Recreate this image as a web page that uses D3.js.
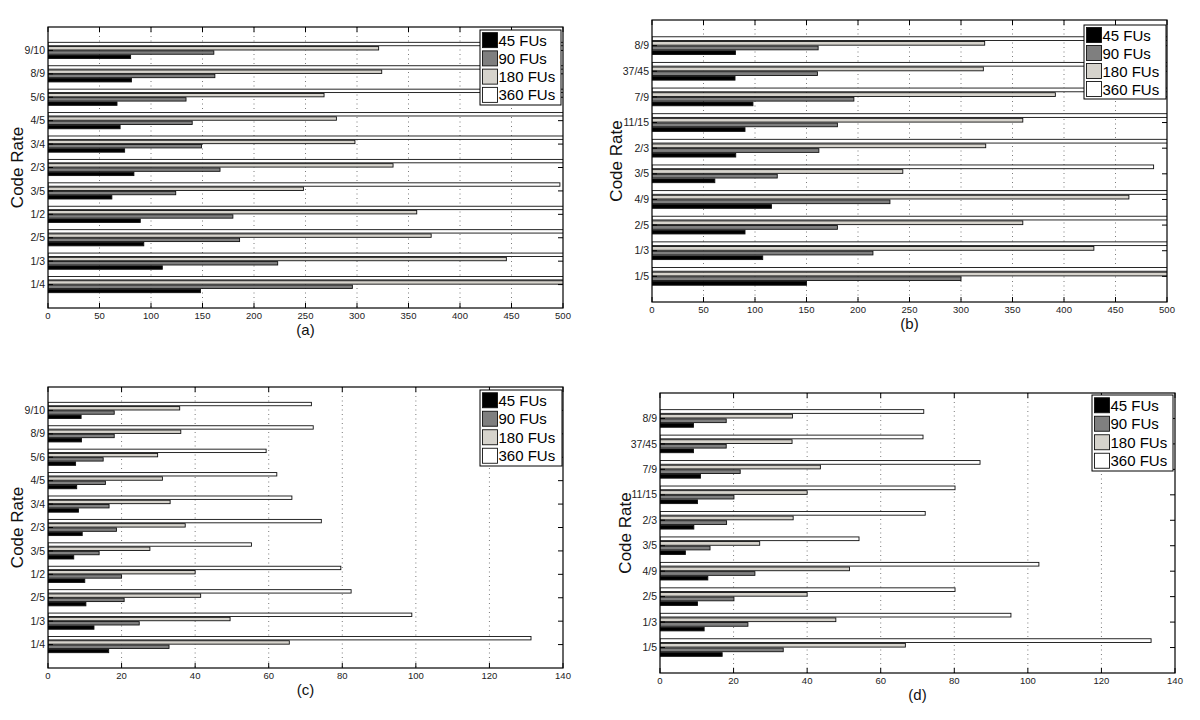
<!DOCTYPE html>
<html>
<head>
<meta charset="utf-8">
<script src="https://cdn.jsdelivr.net/npm/d3@7"></script>
<style>
  html, body { margin: 0; padding: 0; background: #fff; }
  svg { display: block; font-family: "Liberation Sans", Arial, sans-serif; }
</style>
</head>
<body>
<svg id="chart" width="1200" height="720"></svg>
<script>
// ---------------- DATA ----------------
const seriesNames = ["45 FUs", "90 FUs", "180 FUs", "360 FUs"];
const seriesColors = ["#000000", "#7f7f7f", "#d6d3cc", "#ffffff"];

// Panel (a)
const ratesA = ["1/4", "1/3", "2/5", "1/2", "3/5", "2/3", "3/4", "4/5", "5/6", "8/9", "9/10"];
const a45  = [148, 111, 93, 89.6, 62, 83.4, 74.4, 70, 67, 81, 80.2];
const a90  = [295.5, 223, 186, 179.5, 124, 167, 149, 140, 134, 162, 161];
const a180 = [590, 445, 372, 358, 248, 335, 298, 280, 268, 324, 321];
const a360 = [1180, 890, 744, 716, 497, 670, 596, 560, 536, 648, 642];
const ticksA = [0, 50, 100, 150, 200, 250, 300, 350, 400, 450, 500];

// Panel (b)
const ratesB = ["1/5", "1/3", "2/5", "4/9", "3/5", "2/3", "11/15", "7/9", "37/45", "8/9"];
const b45  = [150, 107.5, 90.3, 116, 61, 81.3, 90.3, 98, 80.6, 81];
const b90  = [300, 214.5, 180, 231, 121.6, 162, 180, 196, 160.6, 161.3];
const b180 = [600, 429, 360, 463, 243.5, 324, 360, 391.6, 321.7, 323];
const b360 = [1200, 858, 720, 926, 487, 648, 720, 783, 643, 646];
const ticksB = [0, 50, 100, 150, 200, 250, 300, 350, 400, 450, 500];

// Panel (c)
const ratesC = ["1/4", "1/3", "2/5", "1/2", "3/5", "2/3", "3/4", "4/5", "5/6", "8/9", "9/10"];
const c45  = [16.5, 12.5, 10.3, 10, 7.0, 9.3, 8.3, 7.8, 7.5, 9.1, 9.0];
const c90  = [32.9, 24.8, 20.7, 20, 13.9, 18.6, 16.6, 15.6, 15, 18, 18];
const c180 = [65.6, 49.5, 41.5, 40, 27.7, 37.3, 33.2, 31.1, 29.8, 36.1, 35.8];
const c360 = [131.3, 98.9, 82.4, 79.6, 55.3, 74.3, 66.3, 62.2, 59.3, 72.1, 71.6];
const ticksC = [0, 20, 40, 60, 80, 100, 120, 140];

// Panel (d)
const ratesD = ["1/5", "1/3", "2/5", "4/9", "3/5", "2/3", "11/15", "7/9", "37/45", "8/9"];
const d45  = [16.9, 12, 10.2, 13, 6.9, 9.2, 10.2, 11, 9.1, 9.1];
const d90  = [33.5, 23.9, 20.1, 25.8, 13.6, 18.1, 20.1, 21.8, 18, 18];
const d180 = [66.7, 47.8, 40, 51.5, 27.1, 36.2, 40, 43.6, 35.9, 36];
const d360 = [133.5, 95.4, 80.2, 103, 54.1, 72.1, 80.2, 87, 71.5, 71.7];
const ticksD = [0, 20, 40, 60, 80, 100, 120, 140];

const yLabel = "Code Rate";

// ---------------- LAYOUT ----------------
const panels = [
  { id: "a", cats: ratesA, series: [a45, a90, a180, a360], ticks: ticksA,
    left: 48, right: 563, top: 27, bottom: 308, ylabX: 17,
    legend: { x: 480, y: 30, w: 81, h: 75 } },
  { id: "b", cats: ratesB, series: [b45, b90, b180, b360], ticks: ticksB,
    left: 652, right: 1167, top: 20, bottom: 302, ylabX: 616,
    legend: { x: 1084, y: 25, w: 82, h: 74 } },
  { id: "c", cats: ratesC, series: [c45, c90, c180, c360], ticks: ticksC,
    left: 48, right: 563, top: 387, bottom: 668, ylabX: 17,
    legend: { x: 480, y: 390, w: 82, h: 76 } },
  { id: "d", cats: ratesD, series: [d45, d90, d180, d360], ticks: ticksD,
    left: 660, right: 1175, top: 393, bottom: 673, ylabX: 625,
    legend: { x: 1092, y: 395, w: 81, h: 76 } }
];

const svg = d3.select("#chart");
const defs = svg.append("defs");

panels.forEach(p => {
  const g = svg.append("g");
  const n = p.cats.length;
  const xmax = p.ticks[p.ticks.length - 1];
  const x = d3.scaleLinear().domain([0, xmax]).range([p.left, p.right]);
  const y = d3.scaleLinear().domain([0, n + 1]).range([p.bottom, p.top]);

  const clipId = "clip-" + p.id;
  defs.append("clipPath").attr("id", clipId)
    .append("rect")
    .attr("x", p.left).attr("y", p.top)
    .attr("width", p.right - p.left).attr("height", p.bottom - p.top);

  // background
  g.append("rect").attr("x", p.left).attr("y", p.top)
    .attr("width", p.right - p.left).attr("height", p.bottom - p.top)
    .attr("fill", "#fff");

  // grid (dotted)
  g.append("g").selectAll("line")
    .data(p.ticks.slice(1, -1))
    .join("line")
    .attr("x1", d => x(d)).attr("x2", d => x(d))
    .attr("y1", p.top).attr("y2", p.bottom)
    .attr("stroke", "#7a7a7a").attr("stroke-width", 1)
    .attr("stroke-dasharray", "1,3.5");

  // bars
  const ns = p.series.length;
  const gw = Math.min(0.8, ns / (ns + 1.5));
  const bh = 0.8 * gw / ns;
  const barG = g.append("g").attr("clip-path", `url(#${clipId})`);
  const rows = [];
  p.series.forEach((vals, s) => {
    vals.forEach((v, i) => {
      const c = (i + 1) - gw / 2 + (2 * s + 1) * gw / (2 * ns);
      rows.push({ s, v, c });
    });
  });
  barG.selectAll("rect")
    .data(rows)
    .join("rect")
    .attr("x", x(0))
    .attr("y", d => y(d.c + bh / 2))
    .attr("width", d => x(d.v) - x(0))
    .attr("height", d => y(d.c - bh / 2) - y(d.c + bh / 2))
    .attr("fill", d => seriesColors[d.s])
    .attr("stroke", "#111")
    .attr("stroke-width", 0.9);

  // tick marks (inward)
  const tl = 5;
  const tk = g.append("g").attr("stroke", "#000").attr("stroke-width", 1);
  p.ticks.forEach(t => {
    tk.append("line").attr("x1", x(t)).attr("x2", x(t)).attr("y1", p.bottom).attr("y2", p.bottom - tl);
    tk.append("line").attr("x1", x(t)).attr("x2", x(t)).attr("y1", p.top).attr("y2", p.top + tl);
  });
  p.cats.forEach((c, i) => {
    tk.append("line").attr("x1", p.left).attr("x2", p.left + tl).attr("y1", y(i + 1)).attr("y2", y(i + 1));
    tk.append("line").attr("x1", p.right).attr("x2", p.right - tl).attr("y1", y(i + 1)).attr("y2", y(i + 1));
  });

  // box
  g.append("rect").attr("x", p.left).attr("y", p.top)
    .attr("width", p.right - p.left).attr("height", p.bottom - p.top)
    .attr("fill", "none").attr("stroke", "#000").attr("stroke-width", 1.2);

  // x tick labels
  g.append("g").selectAll("text")
    .data(p.ticks)
    .join("text")
    .attr("x", d => x(d)).attr("y", p.bottom + 11)
    .attr("text-anchor", "middle")
    .attr("font-size", 9.5).attr("fill", "#222")
    .text(d => d);

  // y tick labels
  g.append("g").selectAll("text")
    .data(p.cats)
    .join("text")
    .attr("x", p.left - 3).attr("y", (d, i) => y(i + 1) + 3.6)
    .attr("text-anchor", "end")
    .attr("font-size", 10.5).attr("fill", "#222")
    .text(d => d);

  // y label
  const yc = (p.top + p.bottom) / 2;
  g.append("text")
    .attr("transform", `translate(${p.ylabX + 6},${yc}) rotate(-90)`)
    .attr("text-anchor", "middle")
    .attr("font-size", 17).attr("fill", "#111")
    .text(yLabel);

  // panel letter
  g.append("text")
    .attr("x", (p.left + p.right) / 2).attr("y", p.bottom + 27)
    .attr("text-anchor", "middle")
    .attr("font-size", 15).attr("fill", "#111")
    .text(`(${p.id})`);

  // legend
  const L = p.legend;
  const lg = g.append("g");
  lg.append("rect").attr("x", L.x).attr("y", L.y).attr("width", L.w).attr("height", L.h)
    .attr("fill", "#fff").attr("stroke", "#000").attr("stroke-width", 1);
  const rowH = (L.h - 2) / 4;
  seriesNames.forEach((name, s) => {
    const cy = L.y + 1 + rowH * (s + 0.5);
    lg.append("rect").attr("x", L.x + 2.5).attr("y", cy - 7.5).attr("width", 15).attr("height", 15)
      .attr("fill", seriesColors[s]).attr("stroke", "#111").attr("stroke-width", 0.9);
    lg.append("text").attr("x", L.x + 18.5).attr("y", cy + 5.5)
      .attr("font-size", 15).attr("fill", "#000")
      .text(name);
  });
});
</script>
</body>
</html>
